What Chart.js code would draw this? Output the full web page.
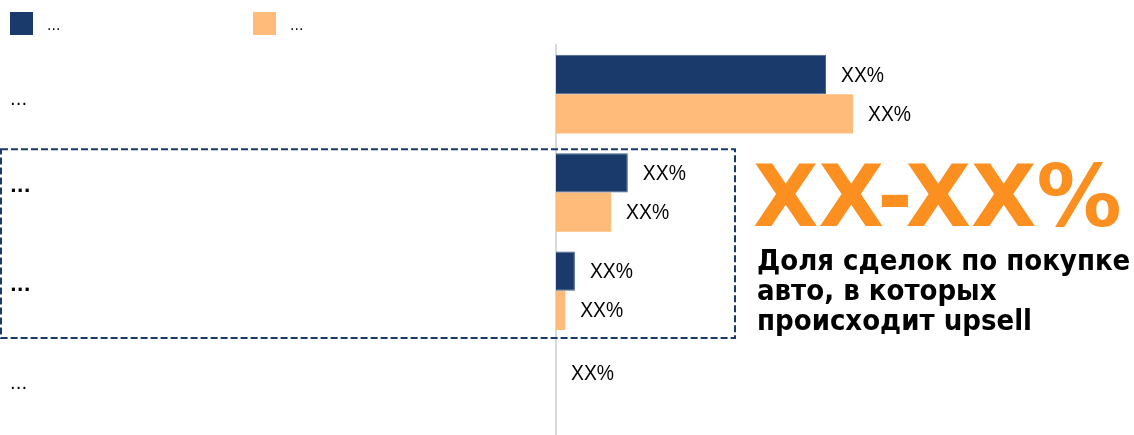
<!DOCTYPE html>
<html>
<head>
<meta charset="utf-8">
<script src="https://cdn.jsdelivr.net/npm/chart.js@4.4.0/dist/chart.umd.min.js"></script>
<style>
  html, body { margin: 0; padding: 0; background: #fff; overflow: hidden; }
  #wrap { position: relative; width: 1134px; height: 452px; }
</style>
</head>
<body>
<div id="wrap"><canvas id="myChart"></canvas></div>
<script>
// данные графика
const categories = [['...'], ['...', ''], ['...', ''], ['...', '']];
const boldCategories = [false, true, true, false];
const seriesNames = ['...', '...'];
const darkValues = [50, 13.3, 3.5, 0];
const orangeValues = [55, 10.2, 1.7, 0];
const darkLabels = ['XX%', 'XX%', 'XX%', 'XX%'];
const orangeLabels = ['XX%', 'XX%', 'XX%', ''];
const highlightRange = [1, 2]; // категории в пунктирной рамке
const bigValue = 'XX-XX%';
const captionLines = ['Доля сделок по покупке', 'авто, в которых', 'происходит upsell'];

const DARK = '#193a6b';
const ORANGE = '#ffbb7a';
const BIG_ORANGE = '#fb8f1f';

const allLabels = [darkLabels, orangeLabels];

// легенда, подписи и рамка
const overlay = {
    id: 'overlay',
    afterDatasetsDraw(chart) {
        const ctx = chart.ctx;
        const y = chart.scales.y;
        ctx.save();

        // подписи баров (шрифт чуть сжат по ширине)
        ctx.font = '22px "Liberation Sans", Arial, sans-serif';
        ctx.fillStyle = '#000';
        ctx.textAlign = 'left';
        ctx.textBaseline = 'middle';
        chart.data.datasets.forEach((ds, i) => {
            const meta = chart.getDatasetMeta(i);
            meta.data.forEach((bar, j) => {
                const txt = allLabels[i][j];
                if (!txt) return;
                const dy = bar.width < 1 ? 5 : 1;
                ctx.save();
                ctx.translate(bar.x + 15, bar.y + dy);
                ctx.scale(0.88, 1);
                ctx.fillText(txt, 0, 0);
                ctx.restore();
            });
        });

        // пунктирная рамка
        const step = y.getPixelForValue(1) - y.getPixelForValue(0);
        const top = y.getPixelForValue(highlightRange[0]) - step / 2 + 6;
        const bottom = y.getPixelForValue(highlightRange[1]) + step / 2 - 2;
        ctx.strokeStyle = DARK;
        ctx.lineWidth = 2;
        ctx.setLineDash([7, 3]);
        ctx.strokeRect(1, top, 734, bottom - top);
        ctx.setLineDash([]);

        // большое значение
        ctx.fillStyle = BIG_ORANGE;
        ctx.font = 'bold 85px "DejaVu Sans", Verdana, sans-serif';
        ctx.textBaseline = 'alphabetic';
        ctx.fillText(bigValue, 753, 226);

        ctx.fillStyle = '#000';
        ctx.font = 'bold 29px "DejaVu Sans Condensed", "DejaVu Sans", sans-serif';
        captionLines.forEach((line, k) => {
            ctx.fillText(line, 757, 270 + k * 30);
        });

        // легенда
        const legendX = [10, 253];
        ctx.font = '14px "DejaVu Sans", sans-serif';
        chart.data.datasets.forEach((ds, i) => {
            ctx.fillStyle = ds.backgroundColor;
            ctx.fillRect(legendX[i], 12, 23, 23);
            ctx.fillStyle = '#000';
            ctx.fillText(ds.label, legendX[i] + 37, 30);
        });

        ctx.restore();
    }
};

const myChart = new Chart(document.getElementById('myChart'), {
    type: 'bar',
    data: {
        labels: categories,
        datasets: [
            { label: seriesNames[0], data: darkValues, backgroundColor: DARK, borderColor: '#4a6288', borderWidth: 1, borderSkipped: 'left' },
            { label: seriesNames[1], data: orangeValues, backgroundColor: ORANGE }
        ]
    },
    options: {
        indexAxis: 'y',
        responsive: true,
        maintainAspectRatio: false,
        animation: false,
        layout: { padding: { top: 45, left: 10, right: 38, bottom: 0 } },
        datasets: { bar: { categoryPercentage: 0.8, barPercentage: 1.0 } },
        plugins: {
            legend: { display: false },
            tooltip: { enabled: false }
        },
        scales: {
            x: { display: false, min: 0, max: 100 },
            y: {
                grid: { display: false },
                border: { display: true, color: '#d9d9d9', width: 2 },
                afterFit: (scale) => { scale.width = 546; },
                ticks: {
                    crossAlign: 'far',
                    labelOffset: 6,
                    color: '#000',
                    font: (c) => ({
                        family: '"DejaVu Sans", sans-serif',
                        size: 18,
                        weight: boldCategories[c.index] ? 'bold' : 'normal'
                    })
                }
            }
        }
    },
    plugins: [overlay]
});
</script>
</body>
</html>
